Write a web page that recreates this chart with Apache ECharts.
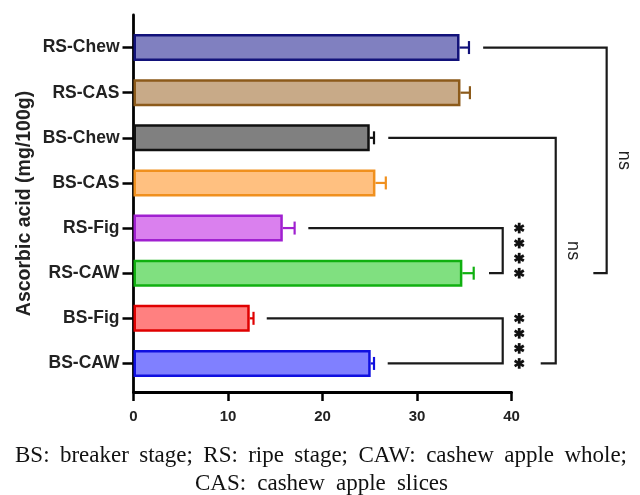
<!DOCTYPE html>
<html><head><meta charset="utf-8">
<script src="https://cdn.jsdelivr.net/npm/echarts@6/dist/echarts.min.js"></script>
<style>html,body{margin:0;padding:0;background:#fff}#c{width:640px;height:495px}</style>
</head><body><div id="c"></div>
<script>
// ---- data (top to bottom) ----
var categories = ['RS-Chew','RS-CAS','BS-Chew','BS-CAS','RS-Fig','RS-CAW','BS-Fig','BS-CAW'];
var means      = [34.5, 34.6, 25.0, 25.6, 15.8, 34.8, 12.3, 25.1];
var errors     = [1.0, 1.0, 0.45, 1.1, 1.25, 1.2, 0.4, 0.35];
var fills      = ['#8080c0','#c8aa88','#808080','#ffc080','#da80ee','#80e080','#ff8080','#8080ff'];
var borders    = ['#12127a','#8c5a1a','#111111','#f0901e','#a020d0','#10b010','#e00000','#1010e0'];
var xTicks     = [0, 10, 20, 30, 40];
var yTitle     = 'Ascorbic acid (mg/100g)';
var caption1   = 'BS: breaker stage; RS: ripe stage; CAW: cashew apple whole;';
var caption2   = 'CAS: cashew apple slices';
// significance brackets: [fromCat, toCat, startX, verticalX, endX, label]
var brackets = [
  ['RS-Chew','RS-CAW', 37.0, 50.07, 48.66, 'ns'],
  ['BS-Chew','BS-CAW', 26.96, 44.68, 43.09, 'ns'],
  ['RS-Fig','RS-CAW', 18.5, 39.07, 37.62, '****'],
  ['BS-Fig','BS-CAW', 14.1, 39.07, 26.9, '****']
];

var chart = echarts.init(document.getElementById('c'));
var GL = 133.5, GW = 378;
var CAP_FONT = 'Liberation Serif, Times New Roman';
var CAP_SIZE = 23;

var barData = categories.map(function(c,i){
  return {value: means[i], itemStyle:{color: fills[i], borderColor: borders[i], borderWidth: 2.5}};
});
var errData = categories.map(function(c,i){ return [means[i], i, means[i]+errors[i], borders[i]]; });
var brData = brackets.map(function(b){
  return [categories.indexOf(b[0]), categories.indexOf(b[1]), b[2], b[3], b[4], b[5]];
});

function star(cx, cy, r){
  var ch = [];
  for (var k=0;k<3;k++){
    var a = Math.PI/2 + k*Math.PI/3;
    ch.push({type:'line', shape:{x1:cx-r*Math.cos(a), y1:cy-r*Math.sin(a), x2:cx+r*Math.cos(a), y2:cy+r*Math.sin(a)},
      style:{stroke:'#111', lineWidth:2.8}});
  }
  return ch;
}

// justified caption lines (word-by-word)
var mctx = document.createElement('canvas').getContext('2d');
mctx.font = CAP_SIZE + 'px "Liberation Serif", "Times New Roman", serif';
function justify(text, x0, x1, top){
  var words = text.split(' ');
  var widths = words.map(function(w){ return mctx.measureText(w).width; });
  var total = widths.reduce(function(a,b){return a+b;},0);
  var gap = (x1 - x0 - total) / (words.length - 1);
  var x = x0, els = [];
  words.forEach(function(w,i){
    els.push({type:'text', x:x, y:top, style:{text:w, fontFamily:CAP_FONT, fontSize:CAP_SIZE, fill:'#111'}});
    x += widths[i] + gap;
  });
  return els;
}
var captionEls = justify(caption1, 15, 627, 444).concat(justify(caption2, 195, 448, 472));

var option = {
  animation:false,
  backgroundColor:'#fff',
  grid:[
    {left:GL, width:GW, top:25, height:361},
    {left:GL, width:GW, top:15, height:377}
  ],
  xAxis:[
    {gridIndex:0, type:'value', min:0, max:40, interval:10, show:false},
    {gridIndex:1, type:'value', min:xTicks[0], max:xTicks[xTicks.length-1], interval:10,
      axisLine:{show:true, lineStyle:{color:'#000', width:2.8}},
      axisTick:{show:true, length:9, lineStyle:{color:'#000', width:2.5}},
      axisLabel:{color:'#222', fontFamily:'Liberation Sans, Arial', fontWeight:'bold', fontSize:15, margin:17},
      splitLine:{show:false}}
  ],
  yAxis:[
    {gridIndex:0, type:'category', data:categories, inverse:true,
      axisLine:{show:false},
      axisTick:{show:true, alignWithLabel:true, length:11, lineStyle:{color:'#000', width:2.5}},
      axisLabel:{color:'#222', fontFamily:'Liberation Sans, Arial', fontWeight:'bold', fontSize:17.5, margin:14}},
    {gridIndex:1, type:'value', min:0, max:1,
      axisLine:{show:true, lineStyle:{color:'#000', width:2.8}},
      axisTick:{show:false}, axisLabel:{show:false}, splitLine:{show:false},
      name:yTitle, nameLocation:'middle', nameGap:99,
      nameTextStyle:{color:'#222', fontFamily:'Liberation Sans, Arial', fontWeight:'bold', fontSize:19.5}}
  ],
  series:[
    {type:'bar', xAxisIndex:0, yAxisIndex:0, data:barData, barWidth:27},
    {type:'custom', xAxisIndex:0, yAxisIndex:0, clip:false, data:errData, z:3,
      renderItem:function(params, api){
        var p0 = api.coord([api.value(0), api.value(1)]);
        var p1 = api.coord([api.value(2), api.value(1)]);
        var col = errData[params.dataIndex][3];
        return {type:'group', children:[
          {type:'line', shape:{x1:p0[0], y1:p0[1], x2:p1[0], y2:p1[1]}, style:{stroke:col, lineWidth:2.2}},
          {type:'line', shape:{x1:p1[0], y1:p1[1]-6.5, x2:p1[0], y2:p1[1]+6.5}, style:{stroke:col, lineWidth:2.2}}
        ]};
      }},
    {type:'custom', xAxisIndex:0, yAxisIndex:0, clip:false, data:brData, z:3,
      renderItem:function(params, api){
        var d = brData[params.dataIndex];
        var a = api.coord([d[2], d[0]]);
        var v1 = api.coord([d[3], d[0]]);
        var v2 = api.coord([d[3], d[1]]);
        var e = api.coord([d[4], d[1]]);
        var ch = [{type:'polyline', shape:{points:[a, v1, v2, e]},
          style:{stroke:'#1a1a1a', lineWidth:2.2, fill:null}}];
        if (d[5] === 'ns') {
          ch.push({type:'text', x:v1[0]+17, y:(v1[1]+v2[1])/2, rotation:-Math.PI/2,
            style:{text:'ns', fontFamily:'Liberation Sans, Arial', fontSize:18, fill:'#222',
              align:'center', verticalAlign:'middle'}});
        } else {
          for (var k=0;k<4;k++){
            var yy = v1[1] + (v2[1]-v1[1])*k/3;
            ch = ch.concat(star(v1[0]+16.5, yy, 5.3));
          }
        }
        return {type:'group', children:ch};
      }}
  ],
  graphic:captionEls
};
chart.setOption(option);
</script>
</body></html>
